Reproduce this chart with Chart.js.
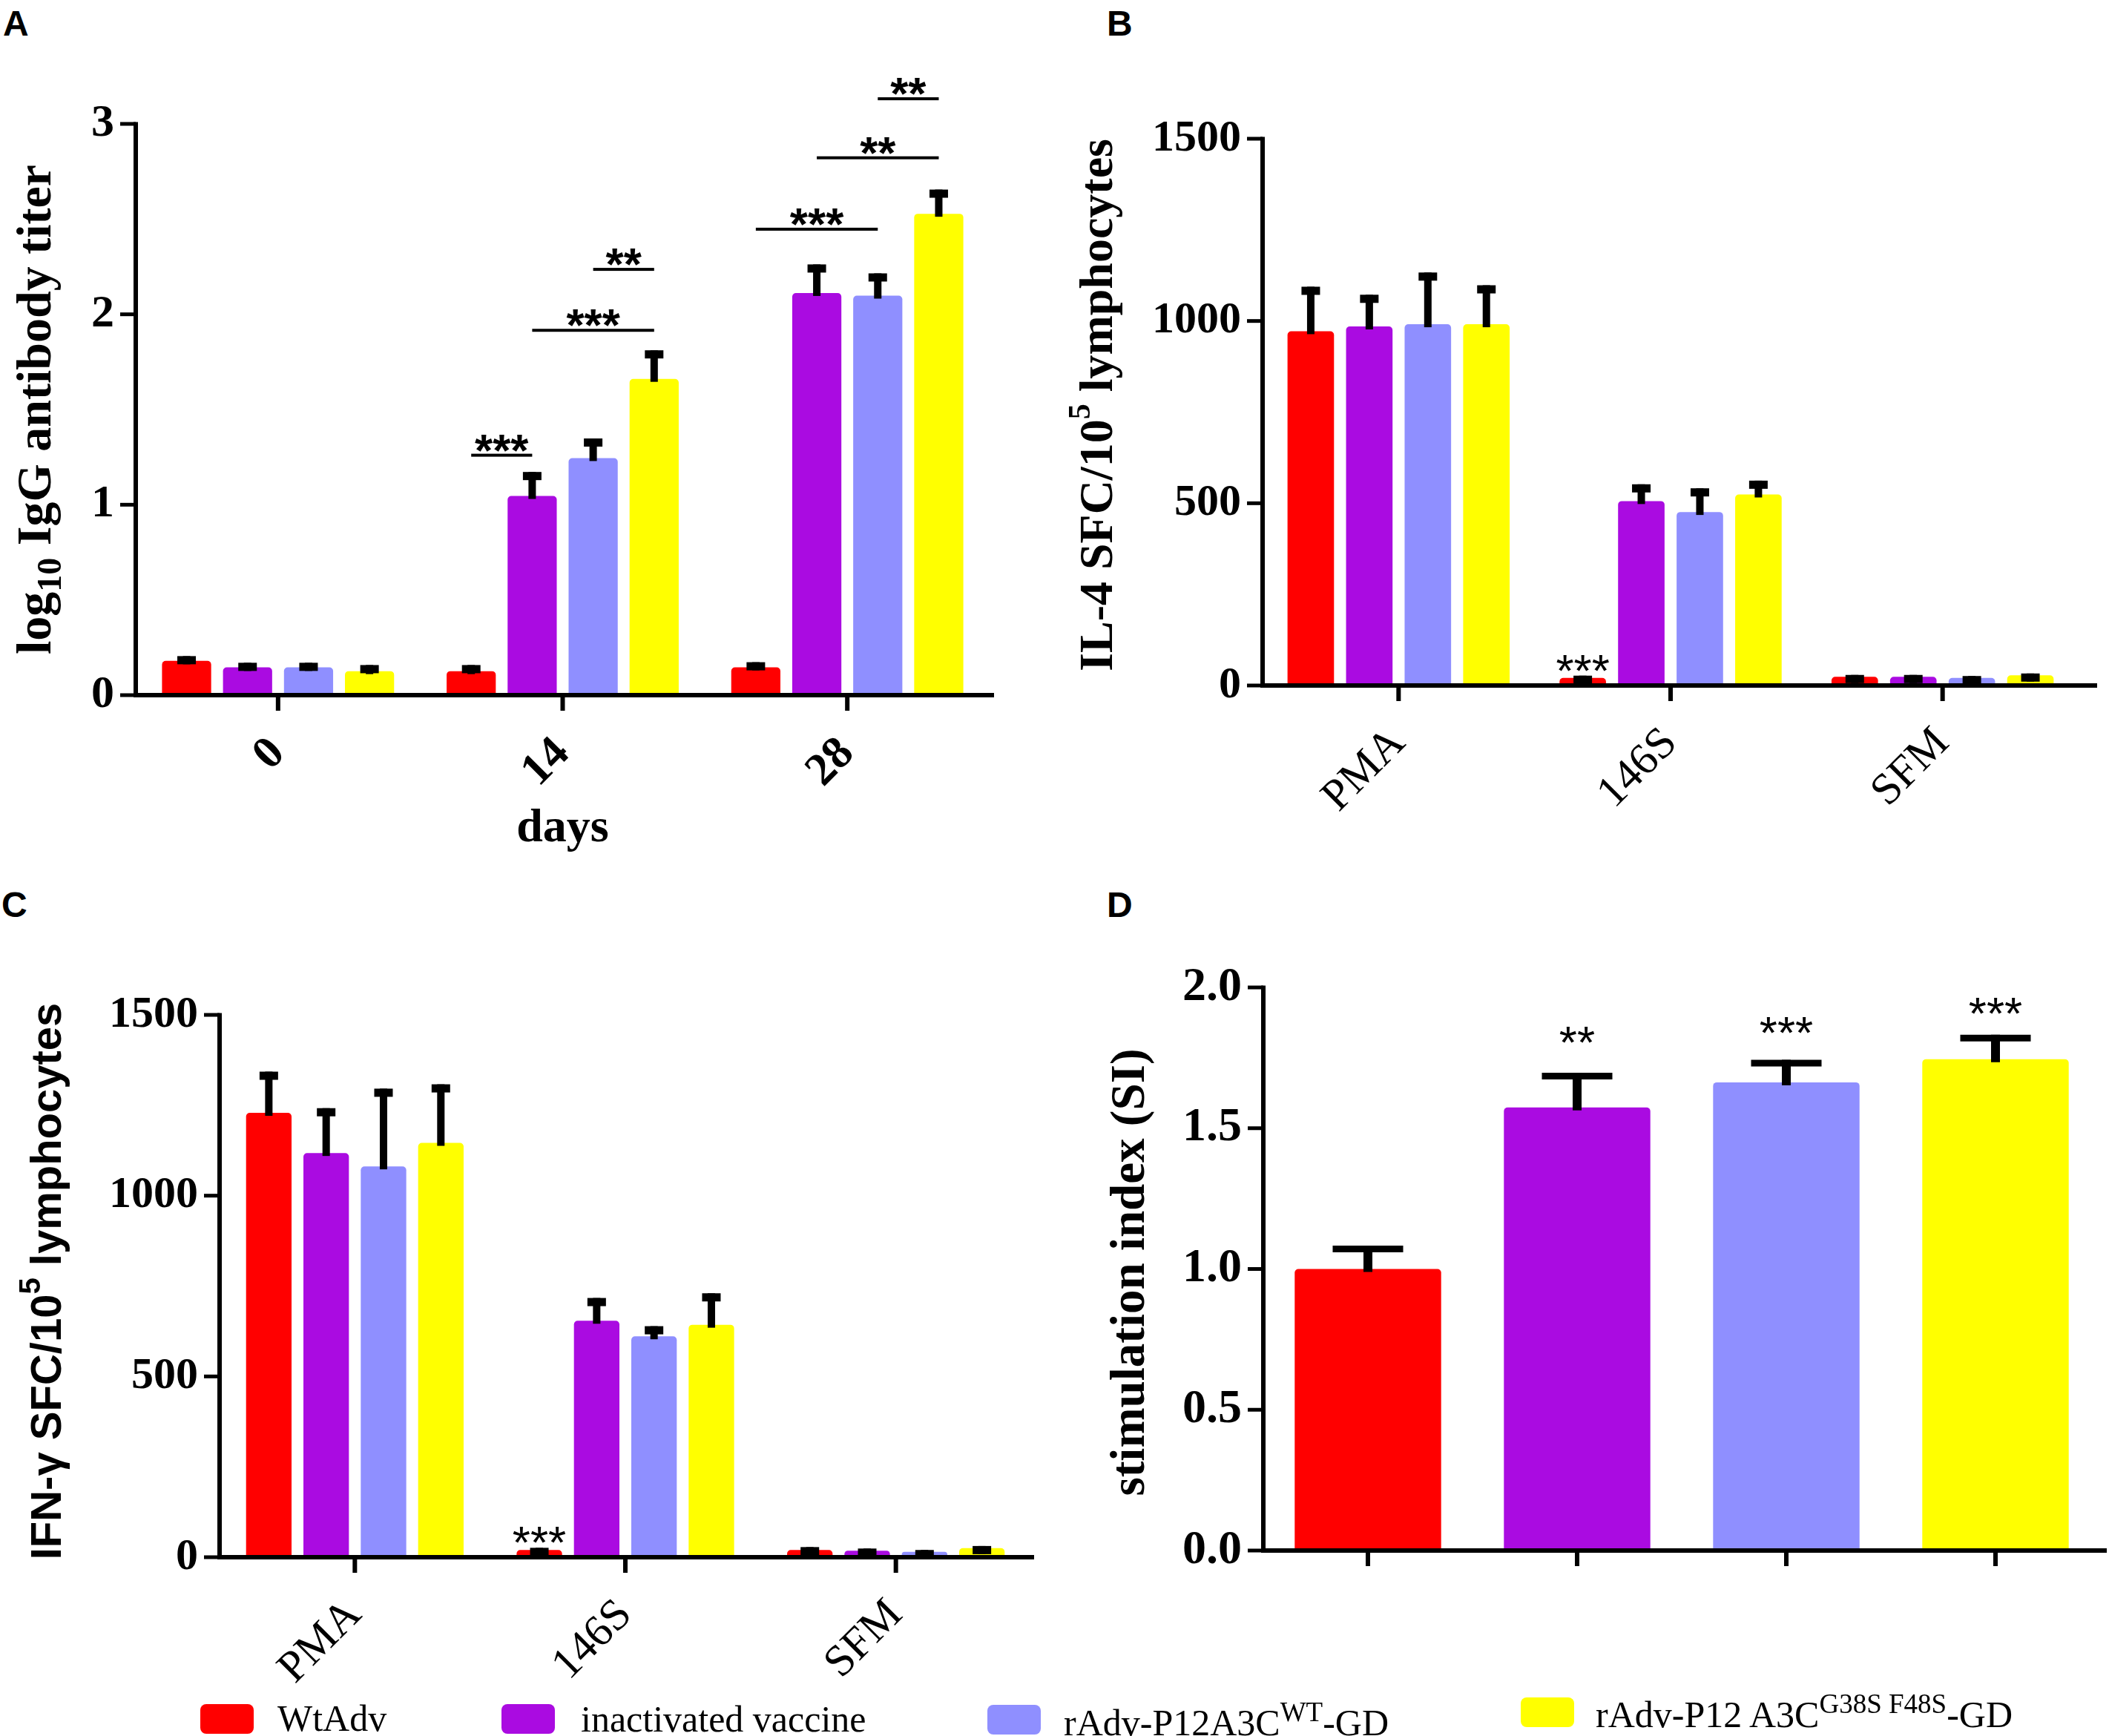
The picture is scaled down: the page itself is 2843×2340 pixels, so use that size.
<!DOCTYPE html>
<html lang="en">
<head>
<meta charset="utf-8">
<title>IgG titer, IL-4 / IFN-γ ELISpot and stimulation index</title>
<script src="https://cdn.jsdelivr.net/npm/chart.js@4.4.1/dist/chart.umd.min.js"></script>
<style>
  html, body { margin: 0; padding: 0; background: #fff; }
  body { width: 2843px; height: 2340px; position: relative; overflow: hidden; }
  .panel { position: absolute; }
  .tag { position: absolute; font: bold 48px 'Liberation Sans', Arial, sans-serif; line-height: 48px; }
  .sw { position: absolute; width: 72px; height: 40px; border-radius: 8px; }
  .lt { position: absolute; font: 50px 'Liberation Serif', 'Times New Roman', serif; line-height: 50px; white-space: nowrap; }
  .lt sup { font-size: 37px; position: relative; top: -19px; vertical-align: baseline; line-height: 0; }
</style>
</head>
<body>

<div class="tag" style="left:4px;top:8px">A</div>
<div class="tag" style="left:1492px;top:8px">B</div>
<div class="tag" style="left:2px;top:1196px">C</div>
<div class="tag" style="left:1492px;top:1196px">D</div>

<div class="panel" style="left:0;top:0"><canvas id="chartA" width="1421" height="1170"></canvas></div>
<div class="panel" style="left:1421px;top:0"><canvas id="chartB" width="1422" height="1170"></canvas></div>
<div class="panel" style="left:0;top:1170px"><canvas id="chartC" width="1421" height="1170"></canvas></div>
<div class="panel" style="left:1421px;top:1170px"><canvas id="chartD" width="1422" height="1170"></canvas></div>

<!-- shared legend -->
<div class="sw" style="left:270px;top:2297px;background:#FF0000"></div>
<div class="lt" style="left:374px;top:2291px">WtAdv</div>
<div class="sw" style="left:676px;top:2297px;background:#AA0BE1"></div>
<div class="lt" style="left:783px;top:2292px">inactivated vaccine</div>
<div class="sw" style="left:1331px;top:2298px;background:#8F8FFF"></div>
<div class="lt" style="left:1434px;top:2297px">rAdv-P12A3C<sup>WT</sup>-GD</div>
<div class="sw" style="left:2050px;top:2288px;background:#FFFF00"></div>
<div class="lt" style="left:2151px;top:2286px">rAdv-P12 A3C<sup>G38S F48S</sup>-GD</div>

<script>
// ---- data ----
var days = ['0', '14', '28'];
var stimuli = ['PMA', '146S', 'SFM'];
var groups = ['WtAdv', 'inactivated vaccine', 'rAdv-P12A3C WT-GD', 'rAdv-P12 A3C G38S F48S-GD'];

// A: log10 IgG antibody titer (mean, SEM)
var igWt = [0.18, 0.126, 0.146];
var igWtErr = [0.025, 0.032, 0.027];
var igInact = [0.146, 1.046, 2.112];
var igInactErr = [0.024, 0.126, 0.15];
var igP12 = [0.146, 1.245, 2.098];
var igP12Err = [0.024, 0.103, 0.117];
var igMut = [0.126, 1.661, 2.528];
var igMutErr = [0.032, 0.15, 0.127];

// A: significance brackets
var sigDay = [1, 1, 1, 2, 2, 2];
var sigFrom = [0, 1, 2, 0, 1, 2];
var sigTo = [1, 3, 3, 2, 3, 3];
var sigLevel = [1.26, 1.916, 2.236, 2.447, 2.822, 3.132];
var sigMark = ['***', '***', '**', '***', '**', '**'];

// B: IL-4 SFC / 10^5 lymphocytes
var il4Wt = [972, 21, 24];
var il4WtErr = [122, 6, 5];
var il4Inact = [985, 506, 24];
var il4InactErr = [87, 46, 5];
var il4P12 = [991, 476, 21];
var il4P12Err = [142, 65, 5];
var il4Mut = [991, 524, 28];
var il4MutErr = [107, 38, 5];

// C: IFN-gamma SFC / 10^5 lymphocytes
var ifnWt = [1229, 20, 20];
var ifnWtErr = [114, 6, 8];
var ifnInact = [1118, 654, 18];
var ifnInactErr = [124, 63, 6];
var ifnP12 = [1081, 611, 15];
var ifnP12Err = [215, 28, 5];
var ifnMut = [1146, 643, 25];
var ifnMutErr = [162, 87, 6];

// B/C: star over WtAdv at 146S
var spotStarSeries = [0];
var spotStarCat = [1];
var spotStarAt = [70];
var spotStarText = ['***'];

// D: stimulation index
var siMean = [1.0, 1.574, 1.663, 1.745];
var siErr = [0.083, 0.123, 0.08, 0.087];
var siStarAt = [null, 1.842, 1.875, 1.945];
var siStarText = ['', '**', '***', '***'];

var colors = ['#FF0000', '#AA0BE1', '#8F8FFF', '#FFFF00'];
var serif = "'Liberation Serif', 'Times New Roman', serif";
var sans = "'Liberation Sans', Arial, sans-serif";

// ---- drawing helpers ----
function drawRotated(ctx, t) {
  // t.x = baseline x, t.y = centre; segments may be raised/lowered
  ctx.save();
  ctx.translate(t.x, t.y);
  ctx.rotate(-Math.PI / 2);
  ctx.textAlign = 'left';
  ctx.textBaseline = 'alphabetic';
  var total = 0;
  t.segs.forEach(function(s) { ctx.font = s.font; total += ctx.measureText(s.text).width; });
  var cx = -total / 2;
  t.segs.forEach(function(s) {
    ctx.font = s.font;
    ctx.fillText(s.text, cx, s.dy || 0);
    cx += ctx.measureText(s.text).width;
  });
  ctx.restore();
}

var prism = {
  id: 'prism',
  afterDatasetsDraw: function(chart, args, o) {
    var ctx = chart.ctx, y = chart.scales.y;
    ctx.save();
    ctx.fillStyle = '#000';
    chart.data.datasets.forEach(function(ds, di) {
      chart.getDatasetMeta(di).data.forEach(function(bar, i) {
        var top = y.getPixelForValue(ds.data[i] + ds.errors[i]);
        ctx.fillRect(bar.x - o.stemW / 2, top, o.stemW, Math.max(bar.y - top + 4, o.capH));
        ctx.fillRect(bar.x - o.capW / 2, top, o.capW, o.capH);
      });
    });
    ctx.restore();
  },
  afterDraw: function(chart, args, o) {
    var ctx = chart.ctx, a = chart.chartArea, x = chart.scales.x, y = chart.scales.y;
    ctx.save();
    ctx.fillStyle = '#000';
    // axes in the Prism style
    var top = y.getPixelForValue(y.max);
    ctx.fillRect(a.left - 3, top - 2.5, 6, a.bottom - top + 5.5);
    y.ticks.forEach(function(t) {
      var py = y.getPixelForValue(t.value);
      ctx.fillRect(a.left - 21, py - 2.5, 21, 5);
    });
    ctx.fillRect(a.left - 3, a.bottom - 3, a.right + o.gapR - a.left + 3, 6);
    chart.data.labels.forEach(function(l, i) {
      ctx.fillRect(x.getPixelForValue(i) - 3, a.bottom, 6, 21);
    });

    ctx.textAlign = 'center';
    ctx.textBaseline = 'alphabetic';
    ctx.font = o.starFont;
    (o.brackets || []).forEach(function(b) {
      var m1 = chart.getDatasetMeta(b.from).data[b.cat];
      var m2 = chart.getDatasetMeta(b.to).data[b.cat];
      var ly = y.getPixelForValue(b.level);
      ctx.fillRect(m1.x, ly - 2, m2.x - m1.x, 4);
      ctx.fillText(b.text, (m1.x + m2.x) / 2, ly + 14);
    });
    (o.stars || []).forEach(function(s) {
      var m = chart.getDatasetMeta(s.ds).data[s.cat];
      ctx.fillText(s.text, m.x, y.getPixelForValue(s.at) + 35);
    });

    drawRotated(ctx, o.yTitle);
    if (o.xTitle) {
      ctx.font = o.xTitle.font;
      ctx.textAlign = 'center';
      ctx.fillText(o.xTitle.text, (a.left + a.right) / 2, o.xTitle.y);
    }
    ctx.restore();
  }
};

function barSet(label, data, errors, color, catPct, barPct) {
  return {
    label: label, data: data, errors: errors,
    backgroundColor: color, borderWidth: 0, borderRadius: 5, borderSkipped: 'bottom',
    categoryPercentage: catPct, barPercentage: barPct
  };
}

function buildChart(id, p) {
  var canvas = document.getElementById(id);
  var cw = canvas.width, ch = canvas.height;
  return new Chart(canvas, {
    type: 'bar',
    data: { labels: p.labels, datasets: p.datasets },
    options: {
      responsive: false,
      animation: false,
      devicePixelRatio: 1,
      layout: { padding: { left: 0, top: p.area.top, right: cw - p.area.right, bottom: 0 } },
      scales: {
        x: {
          offset: true,
          grid: { display: false, drawTicks: false },
          border: { display: false },
          ticks: {
            display: p.xFont != null, autoSkip: false, minRotation: 45, maxRotation: 45,
            padding: 43, color: '#000', font: p.xFont
          },
          afterFit: function(s) { s.height = ch - p.area.bottom; }
        },
        y: {
          min: 0, max: p.yMax,
          grid: { display: false, drawTicks: false },
          border: { display: false },
          ticks: { stepSize: p.yStep, padding: 29, color: '#000', font: p.yFont, callback: p.yFmt },
          afterFit: function(s) { s.width = p.area.left; }
        }
      },
      plugins: { legend: { display: false }, tooltip: { enabled: false }, prism: p.prism }
    },
    plugins: [prism]
  });
}

function brackets() {
  return sigDay.map(function(d, i) {
    return { cat: d, from: sigFrom[i], to: sigTo[i], level: sigLevel[i], text: sigMark[i] };
  });
}
function spotStars() {
  return spotStarSeries.map(function(s, i) {
    return { ds: s, cat: spotStarCat[i], at: spotStarAt[i], text: spotStarText[i] };
  });
}

window.onload = function() {
  Chart.defaults.color = '#000';
  var fmtInt = function(v) { return String(v); };

  // ---- A ----
  buildChart('chartA', {
    labels: days,
    datasets: [
      barSet(groups[0], igWt, igWtErr, colors[0], 0.857, 0.806),
      barSet(groups[1], igInact, igInactErr, colors[1], 0.857, 0.806),
      barSet(groups[2], igP12, igP12Err, colors[2], 0.857, 0.806),
      barSet(groups[3], igMut, igMutErr, colors[3], 0.857, 0.806)
    ],
    area: { left: 183, top: 167, right: 1334, bottom: 937 },
    yMax: 3, yStep: 1, yFmt: fmtInt,
    yFont: { family: serif, size: 62, weight: 'bold' },
    xFont: { family: serif, size: 62, weight: 'bold' },
    prism: {
      capW: 25, capH: 11, stemW: 10, gapR: 6,
      starFont: 'bold 62px ' + sans,
      brackets: brackets(),
      yTitle: { x: 68, y: 552, segs: [
        { text: 'log', font: 'bold 66px ' + serif },
        { text: '10', font: 'bold 46px ' + serif, dy: 14 },
        { text: ' IgG antibody titer', font: 'bold 66px ' + serif }
      ] },
      xTitle: { text: 'days', font: 'bold 64px ' + serif, y: 1134 }
    }
  });

  // ---- B ----
  buildChart('chartB', {
    labels: stimuli,
    datasets: [
      barSet(groups[0], il4Wt, il4WtErr, colors[0], 0.861, 0.794),
      barSet(groups[1], il4Inact, il4InactErr, colors[1], 0.861, 0.794),
      barSet(groups[2], il4P12, il4P12Err, colors[2], 0.861, 0.794),
      barSet(groups[3], il4Mut, il4MutErr, colors[3], 0.861, 0.794)
    ],
    area: { left: 281, top: 187, right: 1381, bottom: 924 },
    yMax: 1500, yStep: 500, yFmt: fmtInt,
    yFont: { family: serif, size: 60, weight: 'bold' },
    xFont: { family: serif, size: 60 },
    prism: {
      capW: 25, capH: 11, stemW: 10, gapR: 25,
      starFont: '62px ' + sans,
      stars: spotStars(),
      yTitle: { x: 78, y: 546, segs: [
        { text: 'IL-4 SFC/10', font: 'bold 64px ' + serif },
        { text: '5', font: 'bold 42px ' + serif, dy: -30 },
        { text: ' lymphocytes', font: 'bold 64px ' + serif }
      ] }
    }
  });

  // ---- C ----
  buildChart('chartC', {
    labels: stimuli,
    datasets: [
      barSet(groups[0], ifnWt, ifnWtErr, colors[0], 0.848, 0.793),
      barSet(groups[1], ifnInact, ifnInactErr, colors[1], 0.848, 0.793),
      barSet(groups[2], ifnP12, ifnP12Err, colors[2], 0.848, 0.793),
      barSet(groups[3], ifnMut, ifnMutErr, colors[3], 0.848, 0.793)
    ],
    area: { left: 296, top: 198, right: 1390, bottom: 929 },
    yMax: 1500, yStep: 500, yFmt: fmtInt,
    yFont: { family: serif, size: 60, weight: 'bold' },
    xFont: { family: serif, size: 60 },
    prism: {
      capW: 25, capH: 11, stemW: 10, gapR: 4,
      starFont: '62px ' + sans,
      stars: spotStars(),
      yTitle: { x: 82, y: 557, segs: [
        { text: 'IFN-\u03B3 SFC/10', font: 'bold 58px ' + sans },
        { text: '5', font: 'bold 40px ' + sans, dy: -28 },
        { text: ' lymphocytes', font: 'bold 58px ' + sans }
      ] }
    }
  });

  // ---- D ----
  var siStars = [];
  siStarText.forEach(function(t, i) {
    if (t) siStars.push({ ds: 0, cat: i, at: siStarAt[i], text: t });
  });
  buildChart('chartD', {
    labels: groups,
    datasets: [{
      label: 'SI', data: siMean, errors: siErr,
      backgroundColor: colors, borderWidth: 0, borderRadius: 5, borderSkipped: 'bottom',
      categoryPercentage: 0.7, barPercentage: 1.0
    }],
    area: { left: 282, top: 161, right: 1410, bottom: 920 },
    yMax: 2, yStep: 0.5, yFmt: function(v) { return v.toFixed(1); },
    yFont: { family: serif, size: 64, weight: 'bold' },
    xFont: null,
    prism: {
      capW: 95, capH: 9, stemW: 12, gapR: 9,
      starFont: '62px ' + sans,
      stars: siStars,
      yTitle: { x: 121, y: 545, segs: [
        { text: 'stimulation index (SI)', font: 'bold 65px ' + serif }
      ] }
    }
  });
};
</script>
</body>
</html>
